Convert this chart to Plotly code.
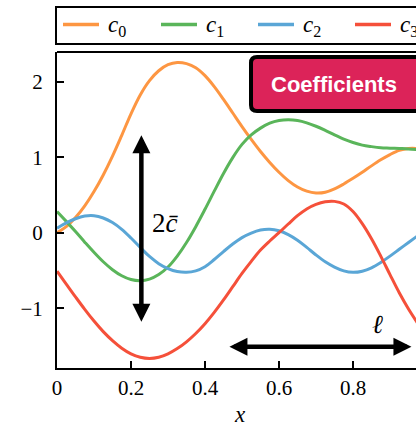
import plotly.graph_objects as go

# ---- data ----
x = [0.000, 0.025, 0.050, 0.075, 0.100, 0.125, 0.150, 0.175, 0.200, 0.225,
     0.250, 0.275, 0.300, 0.325, 0.350, 0.375, 0.400, 0.425, 0.450, 0.475,
     0.500, 0.525, 0.550, 0.575, 0.600, 0.625, 0.650, 0.675, 0.700, 0.725,
     0.750, 0.775, 0.800, 0.825, 0.850, 0.875, 0.900, 0.925, 0.950, 0.975]
c0 = [0.00, 0.08, 0.20, 0.355, 0.545, 0.765, 1.015, 1.29, 1.575, 1.825,
      2.015, 2.145, 2.225, 2.255, 2.24, 2.185, 2.08, 1.935, 1.765, 1.585,
      1.405, 1.235, 1.075, 0.93, 0.80, 0.69, 0.605, 0.55, 0.525, 0.535,
      0.58, 0.645, 0.72, 0.80, 0.885, 0.965, 1.035, 1.09, 1.115, 1.115]
c1 = [0.28, 0.15, 0.015, -0.125, -0.26, -0.385, -0.49, -0.57, -0.62, -0.635,
      -0.615, -0.555, -0.455, -0.31, -0.13, 0.08, 0.31, 0.55, 0.785, 0.995,
      1.17, 1.295, 1.385, 1.45, 1.485, 1.495, 1.485, 1.455, 1.41, 1.355,
      1.295, 1.24, 1.195, 1.16, 1.14, 1.125, 1.12, 1.115, 1.11, 1.10]
c2 = [0.06, 0.13, 0.185, 0.22, 0.225, 0.195, 0.135, 0.045, -0.07, -0.195,
      -0.315, -0.41, -0.475, -0.515, -0.525, -0.505, -0.45, -0.355, -0.25, -0.15,
      -0.065, -0.005, 0.035, 0.045, 0.025, -0.025, -0.10, -0.195, -0.295, -0.385,
      -0.455, -0.505, -0.525, -0.51, -0.465, -0.395, -0.31, -0.22, -0.13, -0.04]
c3 = [-0.51, -0.68, -0.85, -1.015, -1.17, -1.31, -1.43, -1.53, -1.605, -1.65,
      -1.665, -1.65, -1.605, -1.535, -1.445, -1.335, -1.205, -1.055, -0.89, -0.715,
      -0.54, -0.38, -0.23, -0.11, 0.0, 0.115, 0.225, 0.315, 0.375, 0.41,
      0.415, 0.38, 0.28, 0.12, -0.08, -0.31, -0.555, -0.795, -1.01, -1.20]
names = ["<i>c</i><sub>0</sub>", "<i>c</i><sub>1</sub>", "<i>c</i><sub>2</sub>", "<i>c</i><sub>3</sub>"]
series = [c0, c1, c2, c3]
colors = ["#fd9642", "#5ab55a", "#5aa6d6", "#f5503a"]
xticks = [0, 0.2, 0.4, 0.6, 0.8]
xticklabels = ["0", "0.2", "0.4", "0.6", "0.8"]
yticks = [-1, 0, 1, 2]

# ---- layout geometry (pixels) ----
W, H = 416, 429
L, R, T, B = 57, 0, 52, 61
PW, PH = W - L - R, H - T - B

def pxx(px):
    return (px - L) / PW

def pxy(py):
    return (H - B - py) / PH

SERIF = "Liberation Serif, Times New Roman, serif"
SANS = "Liberation Sans, Arial, sans-serif"

fig = go.Figure()
for ys, col in zip(series, colors):
    fig.add_trace(go.Scatter(x=x, y=ys, mode="lines",
                             line=dict(color=col, width=3, shape="spline", smoothing=1.0),
                             showlegend=False, hoverinfo="skip"))

shapes = []
annotations = []

# top frame line
shapes.append(dict(type="line", xref="paper", yref="paper", x0=0, x1=1.05, y0=1, y1=1,
                   line=dict(color="black", width=2)))

# legend box
shapes.append(dict(type="rect", xref="paper", yref="paper",
                   x0=pxx(56), x1=pxx(440), y0=pxy(44), y1=pxy(7),
                   line=dict(color="black", width=2), fillcolor="white"))
leg_line_x = [63, 161, 258, 355]
for lx, col, nm in zip(leg_line_x, colors, names):
    shapes.append(dict(type="line", xref="paper", yref="paper",
                       x0=pxx(lx), x1=pxx(lx + 36), y0=pxy(24.5), y1=pxy(24.5),
                       line=dict(color=col, width=3.5)))
    annotations.append(dict(xref="paper", yref="paper", x=pxx(lx + 43), y=pxy(26),
                            text=nm, showarrow=False, xanchor="left", yanchor="middle",
                            font=dict(family=SERIF, size=23, color="black")))

# Coefficients badge (rounded rect)
bx0, bx1, by0, by1, r = 251, 460, 57, 111, 6
X = pxx
Y = pxy
path = (f"M{X(bx0 + r)},{Y(by0)} L{X(bx1)},{Y(by0)} L{X(bx1)},{Y(by1)} "
        f"L{X(bx0 + r)},{Y(by1)} Q{X(bx0)},{Y(by1)} {X(bx0)},{Y(by1 - r)} "
        f"L{X(bx0)},{Y(by0 + r)} Q{X(bx0)},{Y(by0)} {X(bx0 + r)},{Y(by0)} Z")
shapes.append(dict(type="path", xref="paper", yref="paper", path=path,
                   fillcolor="#dc2359", line=dict(color="black", width=4)))
annotations.append(dict(xref="paper", yref="paper", x=pxx(269), y=pxy(84),
                        text="<b>Coefficients</b>", showarrow=False,
                        xanchor="left", yanchor="middle",
                        font=dict(family=SANS, size=22, color="white")))

# vertical double arrow (2c̄)
annotations.append(dict(x=0.228, y=1.29, ax=0.228, ay=-1.20, xref="x", yref="y",
                        axref="x", ayref="y", text="", showarrow=True,
                        arrowhead=2, startarrowhead=2, arrowside="end+start",
                        arrowwidth=4.5, arrowsize=0.8, startarrowsize=0.8,
                        arrowcolor="black"))
annotations.append(dict(xref="paper", yref="paper", x=pxx(150), y=pxy(223),
                        text="2<i>c\u0304</i>", showarrow=False, xanchor="left",
                        yanchor="middle", font=dict(family=SERIF, size=27, color="black")))

# horizontal double arrow (ℓ)
annotations.append(dict(x=0.958, y=-1.51, ax=0.462, ay=-1.51, xref="x", yref="y",
                        axref="x", ayref="y", text="", showarrow=True,
                        arrowhead=2, startarrowhead=2, arrowside="end+start",
                        arrowwidth=4.5, arrowsize=0.8, startarrowsize=0.8,
                        arrowcolor="black"))
annotations.append(dict(xref="paper", yref="paper", x=pxx(377), y=pxy(324),
                        text="<i>\u2113</i>", showarrow=False, xanchor="center",
                        yanchor="middle", font=dict(family=SERIF, size=26, color="black")))

# x-axis title
annotations.append(dict(xref="paper", yref="paper", x=pxx(240), y=pxy(415),
                        text="<i>x</i>", showarrow=False, xanchor="center",
                        yanchor="middle", font=dict(family=SERIF, size=23, color="black")))

fig.update_layout(
    width=W, height=H,
    margin=dict(l=L, r=R, t=T, b=B, pad=0),
    paper_bgcolor="white", plot_bgcolor="white",
    font=dict(family=SERIF, color="black"),
    shapes=shapes, annotations=annotations,
    showlegend=False,
    xaxis=dict(range=[0, PW / 370.0], tickvals=xticks, ticktext=xticklabels,
               ticks="inside", ticklen=7, tickwidth=1.5, tickcolor="black",
               showline=True, linecolor="black", linewidth=2, showgrid=False,
               zeroline=False, tickfont=dict(family=SERIF, size=21, color="black"),
               ticklabelstandoff=0),
    yaxis=dict(range=[(232.7 - 368) / 75.5, (232.7 - 52) / 75.5], tickvals=yticks,
               ticks="inside", ticklen=7, tickwidth=1.5, tickcolor="black",
               showline=True, linecolor="black", linewidth=2, showgrid=False,
               zeroline=False, tickfont=dict(family=SERIF, size=21, color="black"),
               ticklabelstandoff=8),
)

fig.write_html("out.html", config={"displayModeBar": False},
               post_script="document.body.style.margin='0';document.body.style.padding='0';")
